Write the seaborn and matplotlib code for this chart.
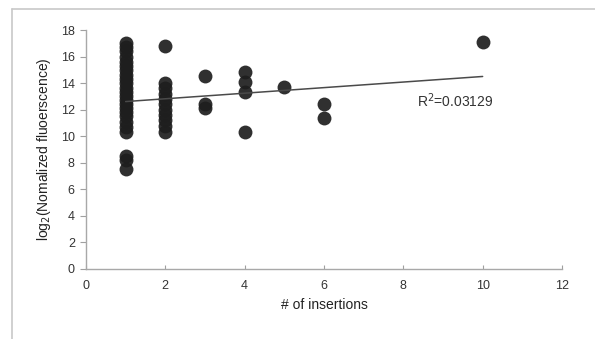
import numpy as np
import pandas as pd
import matplotlib
matplotlib.use("Agg")
import matplotlib.pyplot as plt
import seaborn as sns
from matplotlib.lines import Line2D

# ---- data ----
ins_1 = [17.0, 16.7, 16.4, 16.0, 15.6, 15.3, 15.0, 14.6, 14.3, 14.0, 13.6, 13.3,
         13.0, 12.7, 12.4, 12.1, 11.8, 11.5, 11.1, 10.7, 10.3, 8.5, 8.2, 7.5]
ins_2 = [16.8, 14.0, 13.6, 13.2, 12.8, 12.4, 12.0, 11.6, 11.2, 10.8, 10.3]
ins_3 = [14.5, 12.4, 12.1]
ins_4 = [14.8, 14.1, 13.3, 10.3]
ins_5 = [13.7]
ins_6 = [12.4, 11.4]
ins_10 = [17.1]

trend_slope = 0.21
trend_intercept = 12.40
trend_x = [1, 10]
r2_label = "R$^{2}$=0.03129"
x_ticks = [0, 2, 4, 6, 8, 10, 12]
y_ticks = [0, 2, 4, 6, 8, 10, 12, 14, 16, 18]

groups = {1: ins_1, 2: ins_2, 3: ins_3, 4: ins_4, 5: ins_5, 6: ins_6, 10: ins_10}
df = pd.DataFrame([(k, v) for k, vals in groups.items() for v in vals],
                  columns=["insertions", "fluor"])

sns.set_style("white")
plt.rcParams['font.family'] = ['Liberation Sans', 'DejaVu Sans']

fig = plt.figure(figsize=(5.95, 3.39), dpi=100)
ax = fig.add_axes([0.1445, 0.2065, 0.80, 0.705])

sns.scatterplot(data=df, x="insertions", y="fluor", ax=ax, s=100,
                color="#1e1e1e", edgecolor="#1e1e1e", linewidth=0, alpha=0.92,
                legend=False)

tx = np.array(trend_x, dtype=float)
sns.lineplot(x=tx, y=trend_intercept + trend_slope * tx, ax=ax,
             color="#4a4a4a", linewidth=1.1)

ax.text(8.35, 12.7, r2_label, fontsize=10, color="#333333", va="center", ha="left")

ax.set_xlim(0, 12)
ax.set_ylim(0, 18)
ax.set_xticks(x_ticks)
ax.set_yticks(y_ticks)
ax.tick_params(axis="x", direction="in", length=3, color="#a0a0a0",
               labelsize=9, labelcolor="#333333", pad=8, bottom=True)
ax.tick_params(axis="y", direction="out", length=4, color="#a0a0a0",
               labelsize=9, labelcolor="#333333", pad=4, left=True)
for s in ["top", "right"]:
    ax.spines[s].set_visible(False)
for s in ["left", "bottom"]:
    ax.spines[s].set_color("#a8a8a8")
    ax.spines[s].set_linewidth(1.0)

ax.set_xlabel("# of insertions", fontsize=10, color="#222222", labelpad=4)
ax.set_ylabel("log$_2$(Nomalized fluoerscence)", fontsize=10, color="#222222",
              labelpad=6)

# outer frame (top and left edges)
fig.add_artist(Line2D([12/595, 1.0], [1 - 9/339, 1 - 9/339],
                      transform=fig.transFigure, color="#c8c8c8", linewidth=1.2))
fig.add_artist(Line2D([12/595, 12/595], [0, 1 - 9/339],
                      transform=fig.transFigure, color="#c8c8c8", linewidth=1.2))

fig.savefig("out.png", dpi=100)
